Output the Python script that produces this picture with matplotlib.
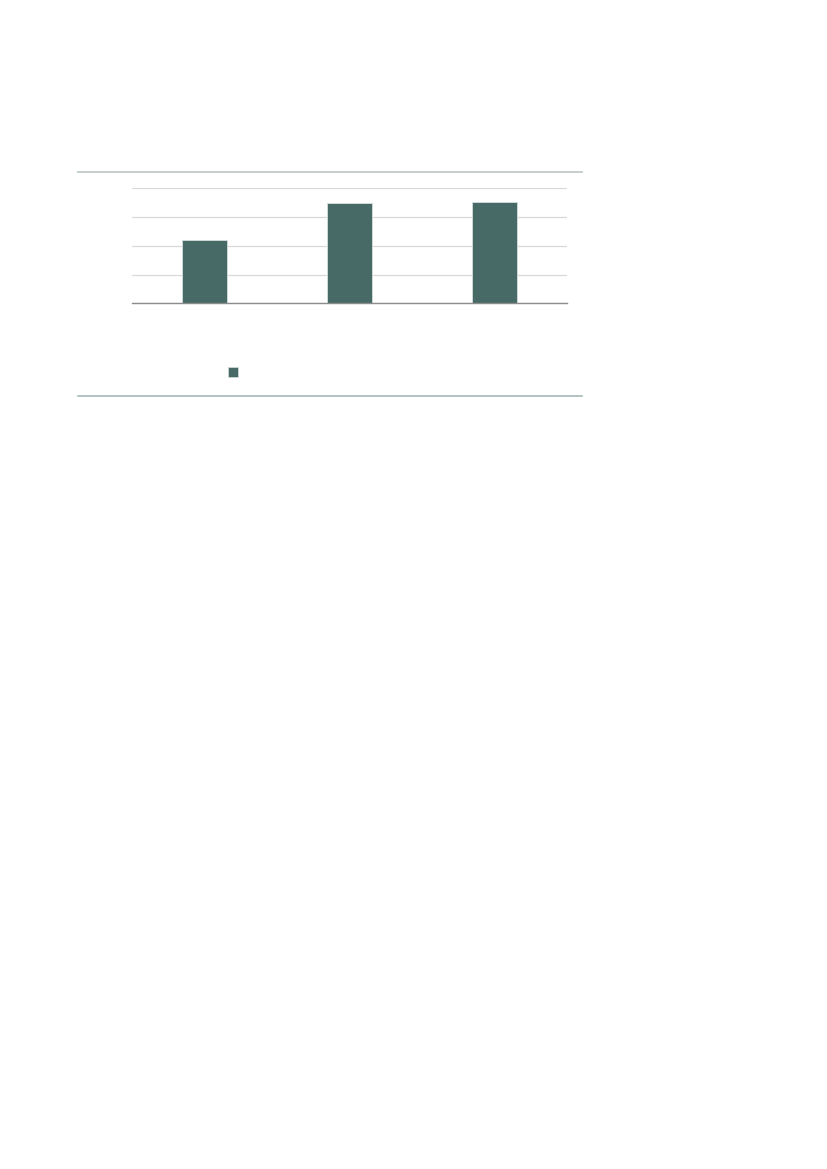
import matplotlib.pyplot as plt
from matplotlib.lines import Line2D
from matplotlib.patches import Patch

# no readable text in the reference: categories kept as placeholders, labels hidden
categories = ['A', 'B', 'C']
values = [2.19, 3.48, 3.51]
y_ticks = [0, 1, 2, 3, 4]

bar_color = '#476A66'

fig = plt.figure(figsize=(8.27, 11.69), dpi=100)
ax = fig.add_axes([132 / 827, 0.7405, 435 / 827, 0.0984])

ax.bar(range(len(categories)), values, width=0.31, color=bar_color,
       edgecolor='#D6DEDD', linewidth=0.6, zorder=3)

ax.set_xlim(-0.5, len(categories) - 0.5)
ax.set_ylim(y_ticks[0], y_ticks[-1])
ax.set_yticks(y_ticks)
ax.yaxis.grid(True, color='#D9D9D9', linewidth=0.9, zorder=0)
ax.tick_params(length=0, labelleft=False, labelbottom=False)
for side in ['left', 'right', 'top']:
    ax.spines[side].set_visible(False)
ax.spines['bottom'].set_color('#8C8C8C')
ax.spines['bottom'].set_linewidth(1.0)
ax.spines['bottom'].set_zorder(4)

# legend with a single empty label
fig.legend(handles=[Patch(facecolor=bar_color, edgecolor='#D6DEDD', linewidth=0.5)],
           labels=[''], loc='center', bbox_to_anchor=(233.3 / 827, 1 - 372.5 / 1169),
           frameon=False, handlelength=0.7, handleheight=0.7, handletextpad=0,
           borderpad=0, borderaxespad=0)

# rules above and below the chart
fig.add_artist(Line2D([78 / 827, 582 / 827], [1 - 171.7 / 1169] * 2,
                      transform=fig.transFigure, color='#BFCBCA', linewidth=1.3))
fig.add_artist(Line2D([78 / 827, 582 / 827], [1 - 396 / 1169] * 2,
                      transform=fig.transFigure, color='#9DB3B0', linewidth=1.1))

fig.savefig('out.png', dpi=100)
